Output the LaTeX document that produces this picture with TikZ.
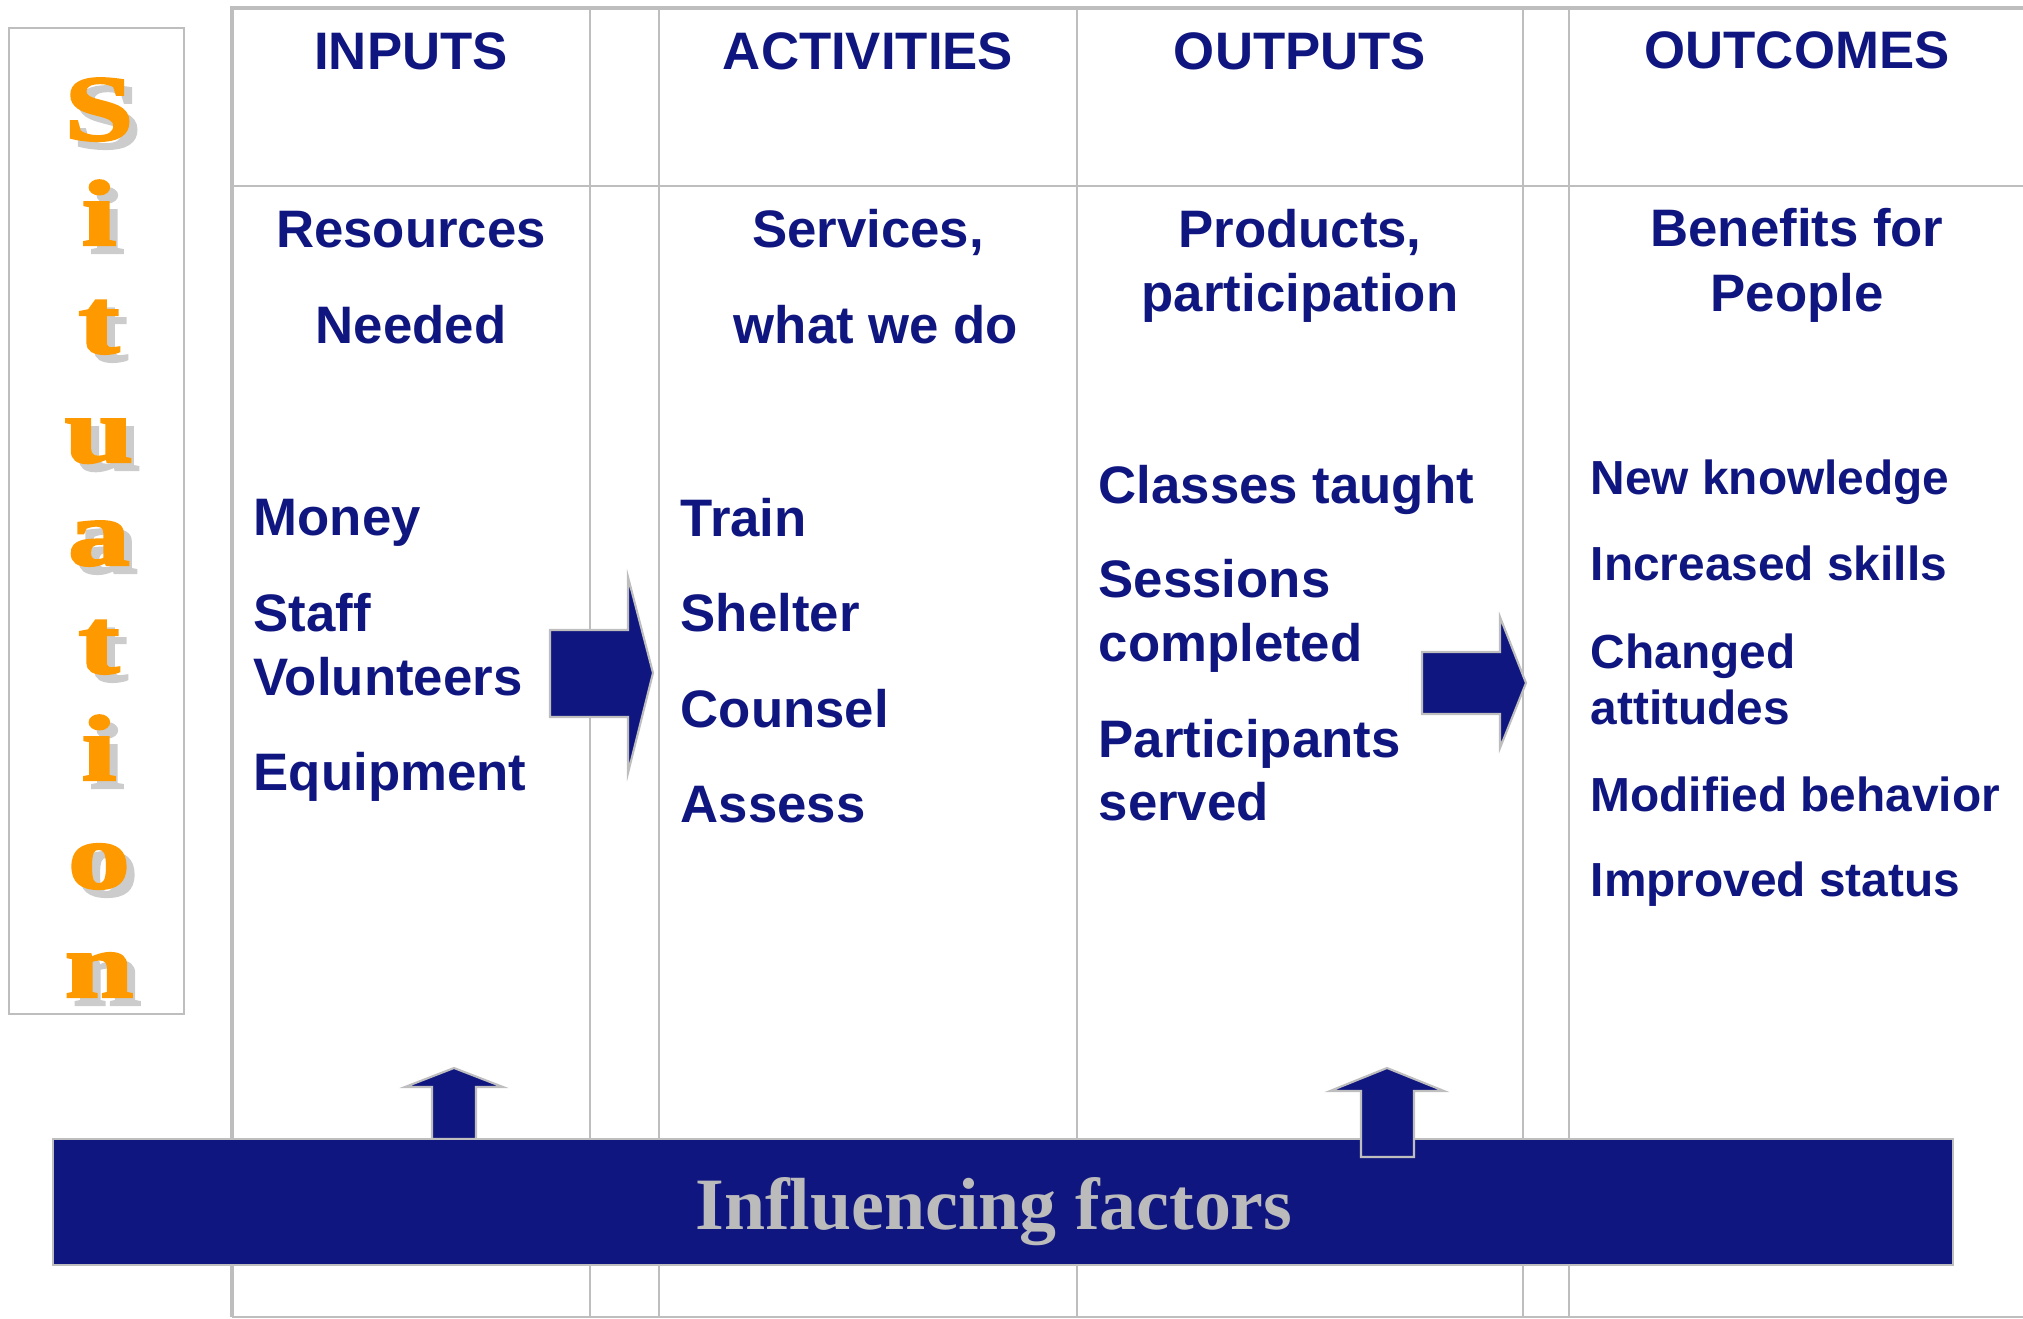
\documentclass[tikz,border=0pt]{standalone}
\usepackage{fontspec}
\usepackage{graphicx}
\setmainfont{Liberation Sans}
\newfontfamily\sitfont{Liberation Serif}
\newfontfamily\sitheavy[FakeBold=2.5]{Liberation Serif Bold}

\definecolor{navy}{HTML}{10167F}
\definecolor{framegray}{HTML}{BEBEBE}
\definecolor{sitorange}{HTML}{FF9900}
\definecolor{shadowgray}{HTML}{CCCCCC}
\definecolor{factorgray}{HTML}{BBBBBB}

\tikzset{
  frameline/.style={draw=framegray, line width=0.7pt},
  heading/.style={anchor=base, inner sep=0pt, text=navy, font=\fontsize{15}{18}\selectfont\bfseries},
  item/.style={anchor=base west, inner sep=0pt, text=navy, font=\fontsize{15}{18}\selectfont\bfseries},
  smallitem/.style={item, font=\fontsize{13.6}{16}\selectfont\bfseries},
  sitletter/.style={anchor=base, inner sep=0pt, text=sitorange, font=\sitheavy\fontsize{26.5}{30}\selectfont},
  sitshadow/.style={sitletter, text=shadowgray},
  blockarrow/.style={fill=navy, draw=framegray, line width=0.6pt, line join=miter},
  factorbar/.style={fill=navy, draw=framegray, line width=0.6pt},
  factortext/.style={anchor=base, inner sep=0pt, text=factorgray, font=\sitfont\fontsize{21}{25}\selectfont\bfseries},
}

\begin{document}
\begin{tikzpicture}[x=0.01cm, y=-0.01cm]
    \useasboundingbox (0,0) rectangle (2023,1319);

    % frame and columns
    \draw[frameline, line width=1.4pt] (232,1317) -- (232,8) -- (2040,8);
    \draw[frameline] (232,186) -- (2040,186);
    \draw[frameline] (232,1317) -- (2040,1317);
    \draw[frameline] (590,8) -- (590,1317);
    \draw[frameline] (659,8) -- (659,1317);
    \draw[frameline] (1077,8) -- (1077,1317);
    \draw[frameline] (1523,8) -- (1523,1317);
    \draw[frameline] (1569,8) -- (1569,1317);

    % situation column
    \draw[frameline] (9,28) rectangle (184,1014);
    \node[sitshadow] (s1s) at (107,148) {\scalebox{1.32}[1]{S}};
    \node[sitletter] (s1) at (99,140) {\scalebox{1.32}[1]{S}};
    \node[sitshadow] (s2s) at (107,253) {\scalebox{1.32}[1]{i}};
    \node[sitletter] (s2) at (99,245) {\scalebox{1.32}[1]{i}};
    \node[sitshadow] (s3s) at (107,361) {\scalebox{1.32}[1]{t}};
    \node[sitletter] (s3) at (99,353) {\scalebox{1.32}[1]{t}};
    \node[sitshadow] (s4s) at (107,470) {\scalebox{1.32}[1]{u}};
    \node[sitletter] (s4) at (99,462) {\scalebox{1.32}[1]{u}};
    \node[sitshadow] (s5s) at (107,573) {\scalebox{1.32}[1]{a}};
    \node[sitletter] (s5) at (99,565) {\scalebox{1.32}[1]{a}};
    \node[sitshadow] (s6s) at (107,681) {\scalebox{1.32}[1]{t}};
    \node[sitletter] (s6) at (99,673) {\scalebox{1.32}[1]{t}};
    \node[sitshadow] (s7s) at (107,788) {\scalebox{1.32}[1]{i}};
    \node[sitletter] (s7) at (99,780) {\scalebox{1.32}[1]{i}};
    \node[sitshadow] (s8s) at (107,896) {\scalebox{1.32}[1]{o}};
    \node[sitletter] (s8) at (99,888) {\scalebox{1.32}[1]{o}};
    \node[sitshadow] (s9s) at (107,1005) {\scalebox{1.32}[1]{n}};
    \node[sitletter] (s9) at (99,997) {\scalebox{1.32}[1]{n}};

    % headings
    \node[heading] (inputs) at (411,70) {INPUTS};
    \node[heading] (activities) at (868,70) {ACTIVITIES};
    \node[heading] (outputs) at (1300,70) {OUTPUTS};
    \node[heading] (outcomes) at (1797,69) {OUTCOMES};

    \node[heading] (resources) at (411,248) {Resources};
    \node[heading] (needed) at (411,344) {Needed};
    \node[heading] (services) at (868,248) {Services,};
    \node[heading] (whatwedo) at (876,344) {what we do};
    \node[heading] (products) at (1300,248) {Products,};
    \node[heading] (participation) at (1300,312) {participation};
    \node[heading] (benefits) at (1797,247) {Benefits for};
    \node[heading] (people) at (1797,312) {People};

    % inputs
    \node[item] (money) at (253,536) {Money};
    \node[item] (staff) at (253,632) {Staff};
    \node[item] (volunteers) at (253,696) {Volunteers};
    \node[item] (equipment) at (253,791) {Equipment};

    % activities
    \node[item] (train) at (680,537) {Train};
    \node[item] (shelter) at (680,632) {Shelter};
    \node[item] (counsel) at (680,728) {Counsel};
    \node[item] (assess) at (680,823) {Assess};

    % outputs
    \node[item] (classes) at (1098,504) {Classes taught};
    \node[item] (sessions) at (1098,598) {Sessions};
    \node[item] (completed) at (1098,662) {completed};
    \node[item] (participants) at (1098,758) {Participants};
    \node[item] (served) at (1098,821) {served};

    % outcomes
    \node[smallitem] (knowledge) at (1590,495) {New knowledge};
    \node[smallitem] (skills) at (1590,581) {Increased skills};
    \node[smallitem] (changed) at (1590,669) {Changed};
    \node[smallitem] (attitudes) at (1590,725) {attitudes};
    \node[smallitem] (behavior) at (1590,812) {Modified behavior};
    \node[smallitem] (status) at (1590,897) {Improved status};

    % block arrows
    \draw[blockarrow] (550,630) -- (628,630) -- (628,577) -- (653,673) -- (628,773) -- (628,717) -- (550,717) -- cycle;
    \draw[blockarrow] (1422,652) -- (1500,652) -- (1500,617) -- (1526,683) -- (1500,748) -- (1500,714) -- (1422,714) -- cycle;
    \draw[blockarrow] (432,1139) -- (432,1087) -- (405,1087) -- (454,1068) -- (503,1087) -- (476,1087) -- (476,1139) -- cycle;

    % influencing factors
    \draw[factorbar] (53,1139) rectangle (1953,1265);
    \node[factortext] (factors) at (994,1230) {Influencing factors};
    \draw[blockarrow] (1361,1157) -- (1361,1091) -- (1330,1091) -- (1387,1068) -- (1444,1091) -- (1414,1091) -- (1414,1157) -- cycle;
\end{tikzpicture}
\end{document}
